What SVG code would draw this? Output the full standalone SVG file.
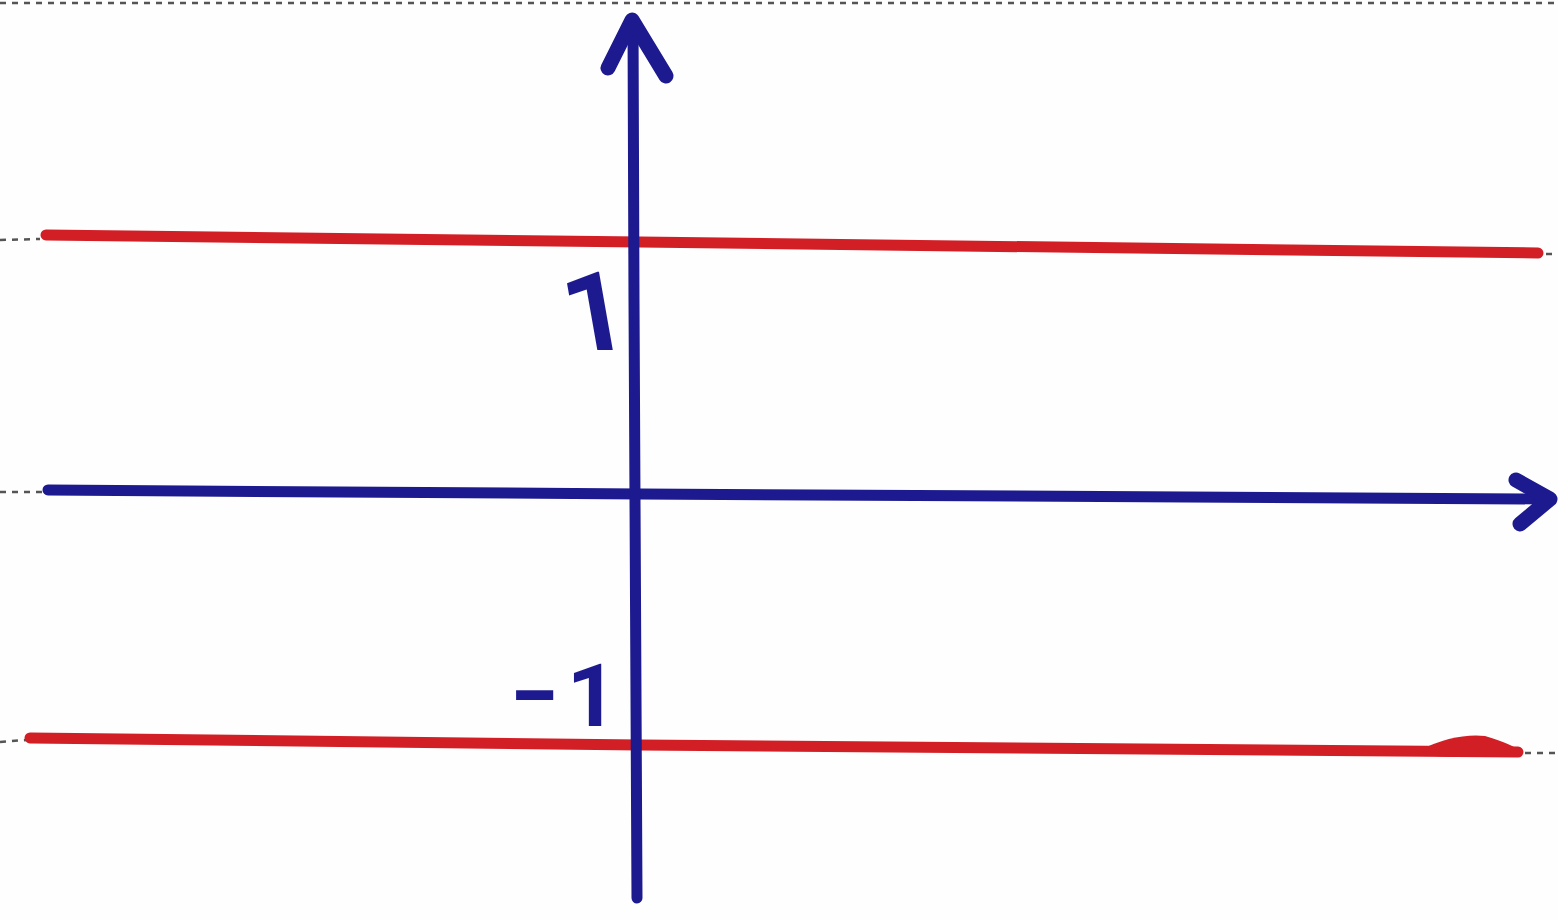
<svg xmlns="http://www.w3.org/2000/svg" width="1558" height="920" viewBox="0 0 1558 920">
<style>
.dots{stroke:#555;stroke-width:2.5;stroke-dasharray:6 6;fill:none}
.red{stroke:#d21f26;stroke-width:11;stroke-linecap:round;fill:none}
.blue{stroke:#1c1a8e;stroke-width:11;stroke-linecap:round;stroke-linejoin:round;fill:none}
.head{stroke:#1c1a8e;stroke-width:15;stroke-linecap:round;stroke-linejoin:round;fill:none}
.lbl{font-family:Roboto,"DejaVu Sans",sans-serif;font-weight:bold;fill:#1c1a8e}
</style>
<rect width="1558" height="920" fill="#fefefe"/>
<g id="border">
<line class="dots" x1="0" y1="3" x2="1558" y2="3"/>
<line class="dots" x1="0" y1="240" x2="40" y2="239"/>
<line class="dots" x1="0" y1="492" x2="42" y2="492"/>
<line class="dots" x1="0" y1="742" x2="26" y2="740"/>
<line class="dots" x1="1546" y1="254" x2="1558" y2="254"/>
<line class="dots" x1="1525" y1="753" x2="1558" y2="753"/>
</g>
<g id="lines">
<path id="y1" class="red" d="M46,235 L640,242 L1538,253"/>
<path id="ym1" class="red" d="M30,738 L640,745 L1518,752"/>
<path d="M1420,750 Q1455,733 1485,736 Q1512,744 1522,752 Q1480,760 1420,755 Z" fill="#d21f26"/>
</g>
<g id="axes">
<path id="xaxis" class="blue" d="M48,490 L640,494 L1548,499"/>
<path class="head" d="M1516,480 L1550,499 L1520,524"/>
<path id="yaxis" class="blue" d="M633,20 L634,300 L637,898"/>
<path class="head" d="M608,68 L632,20 L666,76"/>
</g>
<g id="labels">
<text class="lbl" x="570" y="350" font-size="110" transform="translate(-62,0) skewX(10)">1</text>
<text class="lbl" x="510" y="726" font-size="88" letter-spacing="8">−1</text>
</g>
</svg>
